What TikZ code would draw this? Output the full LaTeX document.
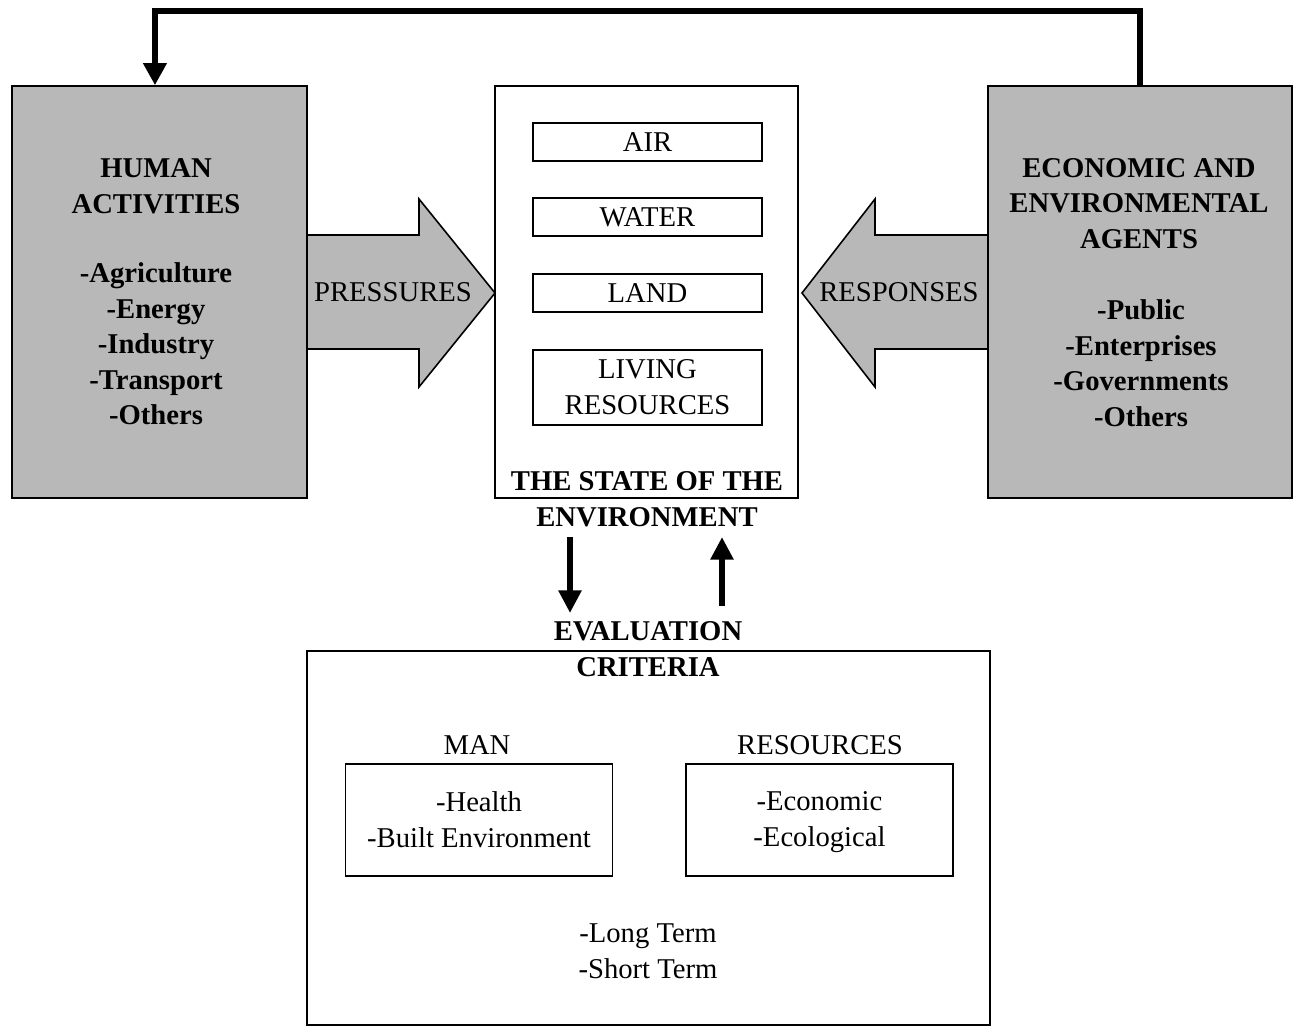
\documentclass[tikz,border=0pt]{standalone}
\usepackage{fontspec}
\setmainfont{Liberation Serif}
\usetikzlibrary{arrows.meta}
\begin{document}
\begin{tikzpicture}[x=0.75pt,y=-0.75pt,
  every node/.style={font=\fontsize{21.5}{27}\selectfont, align=center, inner sep=0pt},
  txt/.style={execute at begin node=\strut, execute at end node=\strut},
  bfont/.style={font=\fontsize{21.5}{26.6}\selectfont\bfseries},
  graybox/.style={draw, line width=1.3pt, fill=black!28},
  whitebox/.style={draw, line width=1.1pt, fill=white},
  bigarrow/.style={draw, line width=1.2pt, fill=black!28, line join=miter},
  fb/.style={line width=3.8pt, line join=miter, -{Triangle[length=16.5pt,width=17pt]}},
  smallarrow/.style={line width=5pt, -{Triangle[length=17pt,width=16.5pt]}}]
\useasboundingbox (0,0) rectangle (1293,1027);

% big arrows (drawn first, boxes overlay their ends)
\draw[bigarrow] (305,235) -- (419,235) -- (419,199) -- (495,293) -- (419,387) -- (419,349) -- (305,349) -- cycle;
\draw[bigarrow] (990,235) -- (875,235) -- (875,199) -- (802,293) -- (875,387) -- (875,349) -- (990,349) -- cycle;
\node (press) at (393,292) {PRESSURES};
\node (resp) at (899,292) {RESPONSES};

% side boxes
\node[graybox, minimum width={295*0.75pt}, minimum height={412*0.75pt}] (human) at (159.5,292) {};
\node[bfont, txt] (humant) at (156,191.5) {HUMAN\\ACTIVITIES};
\node[bfont, txt] (humanl) at (156,349) {-Agriculture\\-Energy\\-Industry\\-Transport\\-Others};

\node[graybox, minimum width={304*0.75pt}, minimum height={412*0.75pt}] (econ) at (1140,292) {};
\node[bfont, txt] (econt) at (1139,208.5) {ECONOMIC AND\\ENVIRONMENTAL\\AGENTS};
\node[bfont, txt] (econl) at (1141,368.5) {-Public\\-Enterprises\\-Governments\\-Others};

% state of the environment
\node[whitebox, minimum width={303*0.75pt}, minimum height={412*0.75pt}] (state) at (646.5,292) {};
\node[whitebox, minimum width={229*0.75pt}, minimum height={38*0.75pt}] (air) at (647.5,142) {AIR};
\node[whitebox, minimum width={229*0.75pt}, minimum height={38*0.75pt}] (water) at (647.5,217) {WATER};
\node[whitebox, minimum width={229*0.75pt}, minimum height={38*0.75pt}] (land) at (647.5,293) {LAND};
\node[whitebox, minimum width={229*0.75pt}, minimum height={75*0.75pt}] (living) at (647.5,387.5) {LIVING\\RESOURCES};
\node[font=\fontsize{21.5}{27}\selectfont\bfseries] (statet) at (647,499) {THE STATE OF THE\\ENVIRONMENT};

% feedback line
\draw[fb] (econ.north) -- (econ.north |- 0,11) -| ([xshift=-3.4pt]human.north);

% evaluation arrows
\coordinate (d1) at (570,537);
\coordinate (d2) at (570,613);
\coordinate (u1) at (722,606);
\coordinate (u2) at (722,537);
\draw[smallarrow] (d1) -- (d2);
\draw[smallarrow] (u1) -- (u2);

% criteria
\node[draw, line width=1.1pt, minimum width={683*0.75pt}, minimum height={374*0.75pt}] (crit) at (648.5,838) {};
\node[font=\fontsize{21.5}{27}\selectfont\bfseries] (critt) at (648,649.5) {EVALUATION\\CRITERIA};
\node (mant) at (477,745) {MAN};
\node (rest) at (820,745) {RESOURCES};
\node[whitebox, minimum width={267*0.75pt}, minimum height={112*0.75pt}] (man) at (479,820) {};
\node[txt] (mantxt) at (479,824.5) {-Health\\-Built Environment};
\node[whitebox, minimum width={267*0.75pt}, minimum height={112*0.75pt}] (res) at (819.5,820) {};
\node[txt] (restxt) at (819.5,824.5) {-Economic\\-Ecological};
\node[txt] (term) at (648,957) {-Long Term\\-Short Term};
\end{tikzpicture}
\end{document}
